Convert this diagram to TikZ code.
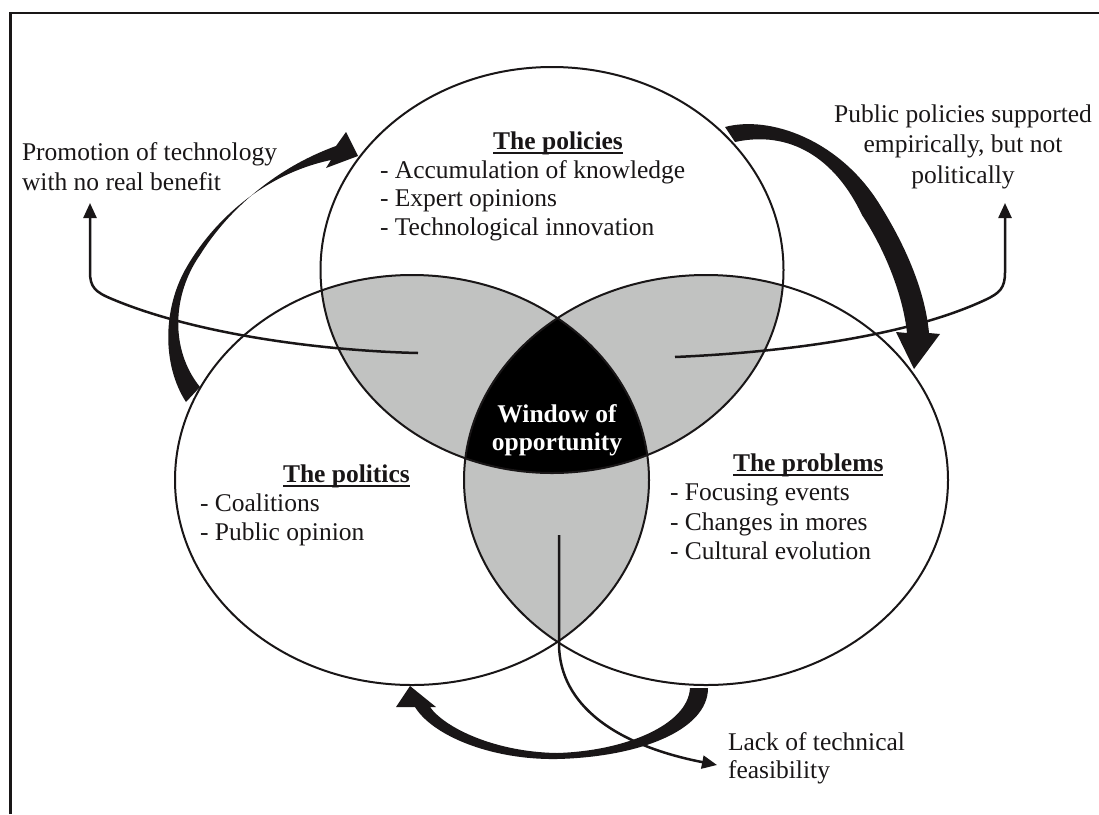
\documentclass[tikz,border=0pt]{standalone}
\usepackage{fontspec}
\setmainfont{Liberation Serif}
\usetikzlibrary{arrows.meta}
\definecolor{ink}{RGB}{25,22,23}
\definecolor{lens}{RGB}{193,194,193}
\newcommand{\fsz}{\fontsize{25.5pt}{28.5pt}\selectfont}
\newsavebox{\hdrbox}
\newcommand{\hdr}[1]{\sbox{\hdrbox}{#1}\rlap{\rule[-4.5pt]{\wd\hdrbox}{2pt}}\usebox{\hdrbox}}
\begin{document}
\begin{tikzpicture}[x=1pt,y=-1pt,
  txt/.style={inner sep=0pt, outer sep=0pt, text=ink, font=\fsz},
  hd/.style={txt, font=\fsz\bfseries},
  wtxt/.style={inner sep=0pt, outer sep=0pt, text=white, font=\fsz\bfseries},
  ring/.style={draw=ink, line width=2pt},
  thinarrow/.style={draw=ink, line width=2.5pt, -{Triangle[length=15pt,width=13pt]}},
  bigarrow/.style={fill=ink, draw=none},
  frame/.style={draw=ink, line width=2.5pt}]
\useasboundingbox (0,0) rectangle (1099,814);
\fill[white] (0,0) rectangle (1099,814);
% frame (only top and left edges visible)
\coordinate (fbl) at (10.5,814);
\coordinate (ftl) at (10.5,13);
\coordinate (ftr) at (1099,13);
\draw[frame] (fbl) -- (ftl) -- (ftr);
% centres
\coordinate (cT) at (552,270);
\coordinate (cL) at (412,480);
\coordinate (cR) at (706,480);
% pairwise lenses
\begin{scope}
  \clip (cT) ellipse [x radius=231.5pt, y radius=203pt];
  \fill[lens] (cL) ellipse [x radius=237pt, y radius=205pt];
  \fill[lens] (cR) ellipse [x radius=242pt, y radius=205pt];
\end{scope}
\begin{scope}
  \clip (cL) ellipse [x radius=237pt, y radius=205pt];
  \fill[lens] (cR) ellipse [x radius=242pt, y radius=205pt];
\end{scope}
% triple intersection
\begin{scope}
  \clip (cT) ellipse [x radius=231.5pt, y radius=203pt];
  \clip (cL) ellipse [x radius=237pt, y radius=205pt];
  \fill[black] (cR) ellipse [x radius=242pt, y radius=205pt];
\end{scope}
% outlines
\draw[ring] (cT) ellipse [x radius=231.5pt, y radius=203pt];
\draw[ring] (cL) ellipse [x radius=237pt, y radius=205pt];
\draw[ring] (cR) ellipse [x radius=242pt, y radius=205pt];

% thin connectors
\coordinate (lsrc) at (418,353);
\coordinate (ltip) at (90,203);
\draw[thinarrow] (lsrc) .. controls (330,351) and (200,336) .. (112,299)
   .. controls (95,292) and (90,287) .. (90,272) -- (ltip);
\coordinate (rsrc) at (675,357);
\coordinate (rtip) at (1005,203);
\draw[thinarrow] (rsrc) .. controls (790,352) and (910,335) .. (985,300)
   .. controls (1000,293) and (1005,288) .. (1005,272) -- (rtip);
\coordinate (bsrc) at (559,535);
\coordinate (btip) at (717,765);
\draw[thinarrow] (bsrc) -- (559,645) .. controls (560,705) and (615,745) .. (btip);

% thick curved arrows
% left: politics -> policies
\fill[bigarrow] (186,402) .. controls (162,365) and (163,310) .. (185,270)
   .. controls (210,225) and (260,175) .. (331,160)
   -- (326,168) -- (358,156) -- (346,132) -- (336,146)
   .. controls (270,170) and (225,215) .. (200,255)
   .. controls (172,295) and (170,350) .. (200,387) -- cycle;
% right: policies -> problems
\fill[bigarrow] (725,127) .. controls (770,115) and (840,140) .. (880,205)
   .. controls (905,245) and (925,290) .. (929,333)
   -- (940,334) -- (914,369) -- (896,332) -- (907,333)
   .. controls (903,295) and (885,250) .. (862,215)
   .. controls (835,158) and (790,130) .. (735,142) -- cycle;
% bottom: problems -> politics
\fill[bigarrow] (708,688) .. controls (708,730) and (640,757) .. (557,759)
   .. controls (490,760) and (432,735) .. (415,707)
   -- (396,707) -- (410,686) -- (436,707) -- (430,707)
   .. controls (445,728) and (495,752) .. (557,753)
   .. controls (625,751) and (688,725) .. (690,688) -- cycle;

% texts: policies
\node[hd, anchor=base] (polh) at (558,149) {\hdr{The policies}};
\node[txt, anchor=base west] (pol1) at (380,178) {- Accumulation of knowledge};
\node[txt, anchor=base west] (pol2) at (380,206.5) {- Expert opinions};
\node[txt, anchor=base west] (pol3) at (380,235) {- Technological innovation};
% politics
\node[hd, anchor=base west] (pth) at (283,482) {\hdr{The politics}};
\node[txt, anchor=base west] (pt1) at (200,511) {- Coalitions};
\node[txt, anchor=base west] (pt2) at (200,540) {- Public opinion};
% problems
\node[hd, anchor=base west] (prh) at (733,471) {\hdr{The problems}};
\node[txt, anchor=base west] (pr1) at (670,500) {- Focusing events};
\node[txt, anchor=base west] (pr2) at (670,530) {- Changes in mores};
\node[txt, anchor=base west] (pr3) at (670,559) {- Cultural evolution};
% window
\node[wtxt, anchor=base] (w1) at (557,422) {Window of};
\node[wtxt, anchor=base] (w2) at (557,450.5) {opportunity};
% outcomes
\node[txt, anchor=base west] (o1a) at (22,160) {Promotion of technology};
\node[txt, anchor=base west] (o1b) at (22,190) {with no real benefit};
\node[txt, anchor=base] (o2a) at (963,122) {Public policies supported};
\node[txt, anchor=base] (o2b) at (963,152) {empirically, but not};
\node[txt, anchor=base] (o2c) at (963,183) {politically};
\node[txt, anchor=base west] (o3a) at (728,750) {Lack of technical};
\node[txt, anchor=base west] (o3b) at (728,778) {feasibility};
\end{tikzpicture}
\end{document}
